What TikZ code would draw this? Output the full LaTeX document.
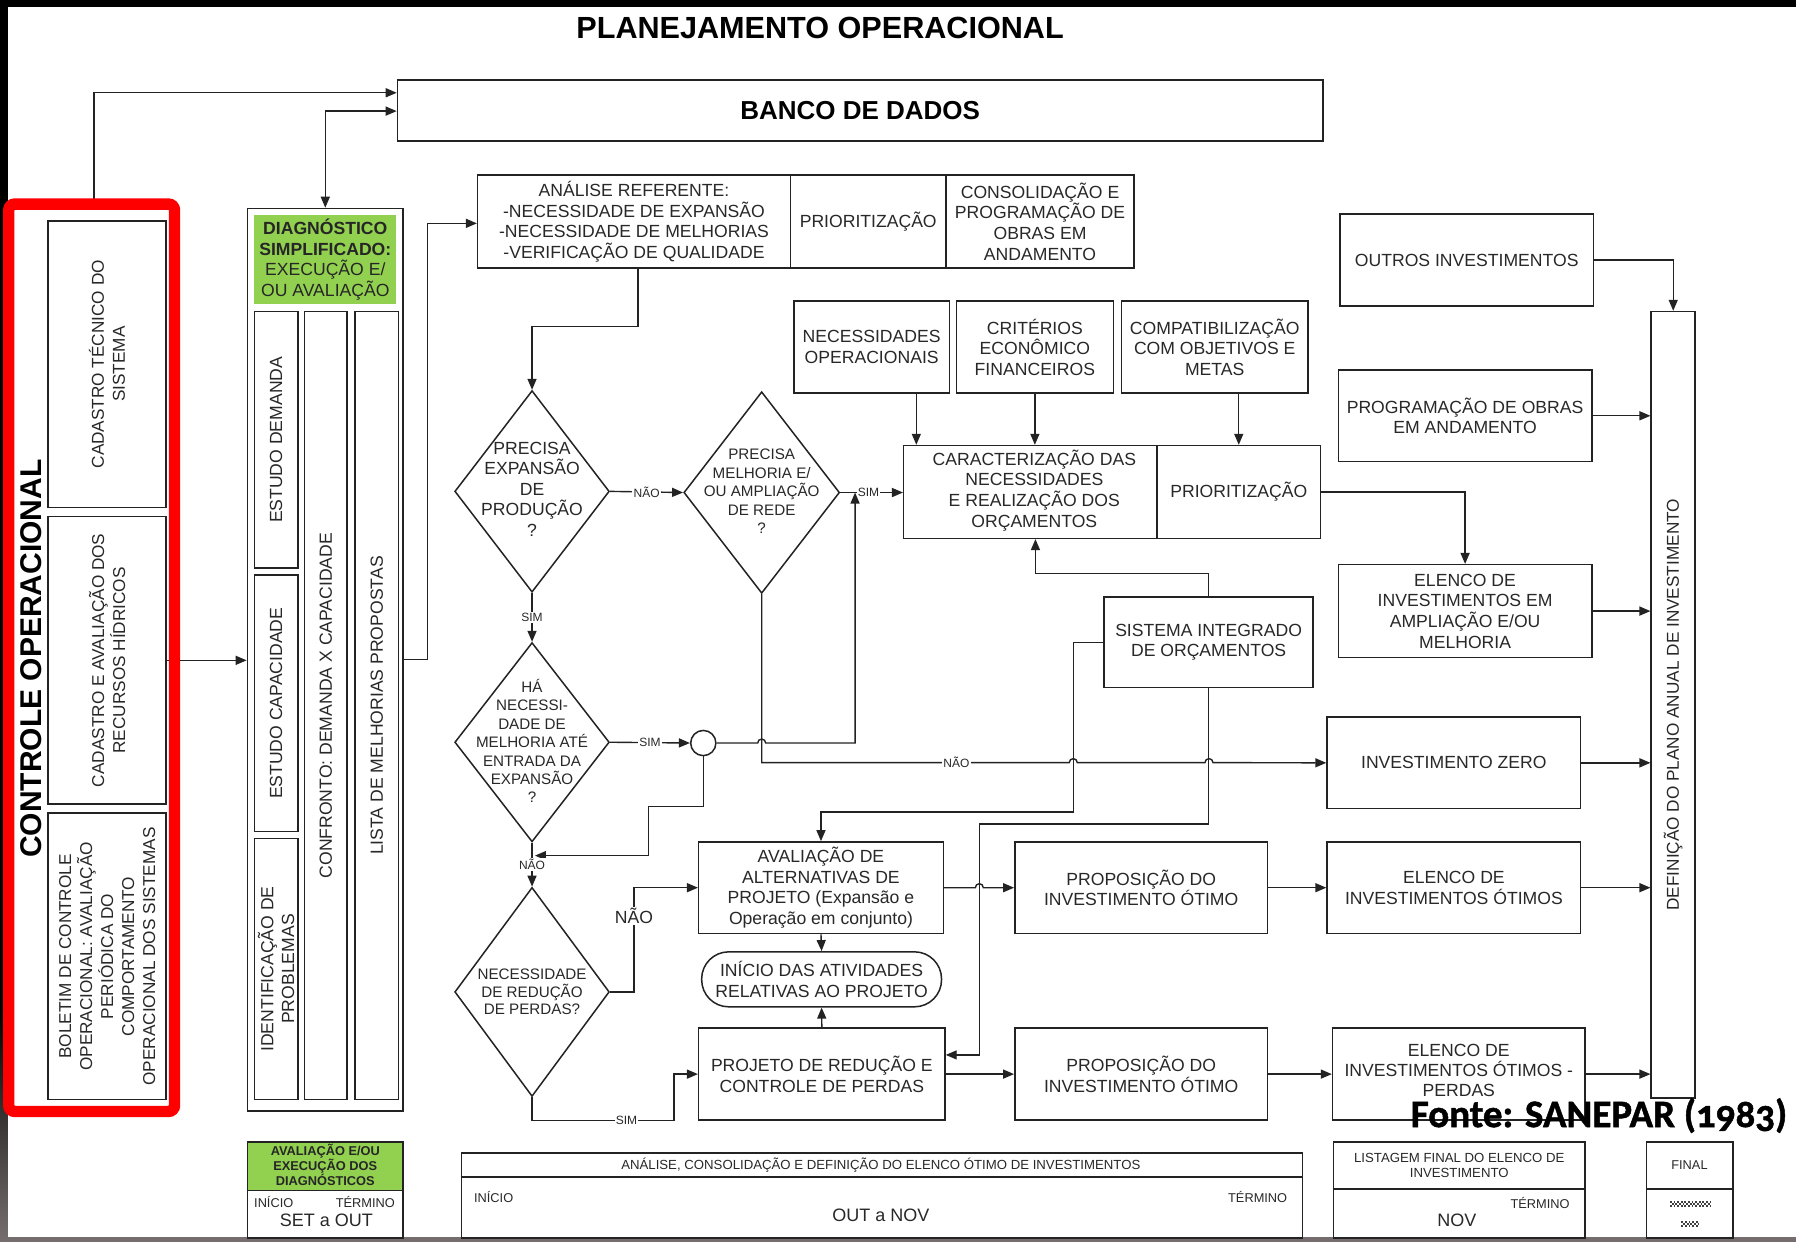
\documentclass[tikz,border=0pt]{standalone}
\usepackage{fontspec}
\setmainfont{Liberation Sans}
\newfontfamily\sourcefont{Carlito}[Numbers=OldStyle, BoldFeatures={FakeBold=1.2}]
\usetikzlibrary{shapes.geometric,arrows.meta}

\definecolor{diaggreen}{RGB}{146,208,80}
\definecolor{ink}{RGB}{35,35,35}
\definecolor{txt}{RGB}{40,40,40}
\definecolor{framegray}{RGB}{118,110,110}

% one drawing unit in points
\newcommand{\pxu}{0.5727pt}
% \bx[style]{name}{x1}{y1}{x2}{y2}{text}: box given by its corners
\newcommand{\bx}[7][]{%
  \node[box,minimum width={(#5-#3)*\pxu},minimum height={(#6-#4)*\pxu},#1]
    (#2) at ({(#3+#5)/2},{(#4+#6)/2}) {#7};}

\tikzset{
  box/.style={draw=ink, line width=0.75pt, rectangle, inner sep=1pt, align=center,
    text=txt, font=\fontsize{8.8}{10.3}\selectfont},
  conn/.style={draw=ink, line width=0.7pt},
  arr/.style={conn, -{Triangle[length=5.5pt,width=4.5pt]}},
  darr/.style={conn, {Triangle[length=5.5pt,width=4.5pt]}-{Triangle[length=5.5pt,width=4.5pt]}},
  lbl/.style={fill=white, inner sep=0.6pt, text=txt, font=\fontsize{6}{7}\selectfont},
  vtext/.style={rotate=90, align=center, text=txt, font=\fontsize{8.8}{10.4}\selectfont},
  btext/.style={align=center, text=txt, font=\fontsize{8.8}{10.3}\selectfont, inner sep=1pt},
  decision/.style={diamond, draw=ink, line width=0.75pt, inner sep=0pt},
  qtext/.style={align=center, text=txt, font=\fontsize{7.6}{9.2}\selectfont},
  smalltext/.style={text=txt, font=\fontsize{6.4}{7.6}\selectfont, align=center, inner sep=0.5pt},
  divider/.style={draw=ink, line width=0.75pt},
  dither/.style={draw=black!75, line width=0.9pt, dash pattern=on 0.9pt off 0.9pt},
}

\begin{document}
\begin{tikzpicture}[x=0.5727pt, y=-0.5727pt]
\useasboundingbox (0,0) rectangle (1568,1084);

% page edges
\fill[black] (0,0) rectangle (1568,1084);
\fill[framegray] (0,1080) rectangle (1568,1084);
\shade[top color=black, bottom color=framegray] (0,880) rectangle (7,1084);
\fill[white] (7,6) rectangle (1568,1080);

% title and database
\node[font=\bfseries\fontsize{15.3}{18}\selectfont, text=black] (title) at (716,24) {PLANEJAMENTO OPERACIONAL};
\bx[font=\bfseries\fontsize{13}{15}\selectfont, text=black]{banco}{347}{70}{1155}{123}{BANCO DE DADOS}

% operational control column
\node[minimum width={144*\pxu}, minimum height={791.5*\pxu}, inner sep=0] (ctrl) at (80,574.25) {};
\bx{cadtec}{42}{193}{145}{443}{}
\bx{cadrec}{42}{451}{145}{702}{}
\bx{boletim}{42}{710}{145}{960}{}
\node[vtext, font=\fontsize{8.6}{10.5}\selectfont] (tcadtec) at (cadtec) {CADASTRO TÉCNICO DO\\SISTEMA};
\node[vtext, font=\fontsize{8.6}{10.5}\selectfont] (tcadrec) at (cadrec) {CADASTRO E AVALIAÇÃO DOS\\RECURSOS HÍDRICOS};
\node[vtext, font=\fontsize{8.6}{10.5}\selectfont] (tboletim) at (boletim) {BOLETIM DE CONTROLE\\OPERACIONAL: AVALIAÇÃO\\PERIÓDICA DO\\COMPORTAMENTO\\OPERACIONAL DOS SISTEMAS};
\node[rotate=90, font=\bfseries\fontsize{15}{18}\selectfont, text=black] (ctrltitle) at (27,575) {CONTROLE OPERACIONAL};

% simplified diagnosis column
\bx{diag}{216}{182}{352}{970}{}
\node[fill=diaggreen, minimum width={124*\pxu}, minimum height={77*\pxu}, inner sep=0, align=center,
  text=black!85, font=\fontsize{8.8}{10.3}\selectfont] (diaghead) at (284,226.5)
  {\textbf{DIAGNÓSTICO}\\\textbf{SIMPLIFICADO:}\\EXECUÇÃO E/\\OU AVALIAÇÃO};
\bx{estdem}{222}{272}{260}{496}{}
\bx{estcap}{222}{502}{260}{726}{}
\bx{identp}{222}{732}{260}{960}{}
\bx{confr}{266}{272}{303}{960}{}
\bx{lista}{310}{272}{348}{960}{}
\node[vtext] (testdem) at (estdem) {ESTUDO DEMANDA};
\node[vtext] (testcap) at (estcap) {ESTUDO CAPACIDADE};
\node[vtext] (tidentp) at (identp) {IDENTIFICAÇÃO DE\\PROBLEMAS};
\node[vtext] (tconfr) at (confr) {CONFRONTO: DEMANDA X CAPACIDADE};
\node[vtext] (tlista) at (lista) {LISTA DE MELHORIAS PROPOSTAS};

% analysis header row
\bx{analise}{417}{153}{690}{234}{ANÁLISE REFERENTE:\\-NECESSIDADE DE EXPANSÃO\\-NECESSIDADE DE MELHORIAS\\-VERIFICAÇÃO DE QUALIDADE}
\bx{prior1}{690}{153}{826}{234}{PRIORITIZAÇÃO}
\bx{consol}{826}{153}{990}{234}{CONSOLIDAÇÃO E\\PROGRAMAÇÃO DE\\OBRAS EM\\ANDAMENTO}

% criteria and budgeting
\bx{necop}{693}{263}{829}{343}{NECESSIDADES\\OPERACIONAIS}
\bx{crit}{835}{263}{972}{343}{CRITÉRIOS\\ECONÔMICO\\FINANCEIROS}
\bx{compat}{979}{263}{1142}{343}{COMPATIBILIZAÇÃO\\COM OBJETIVOS E\\METAS}
\bx{carac}{789}{389}{1010}{470}{}
\node[btext] (tcarac) at (903,428) {CARACTERIZAÇÃO DAS\\NECESSIDADES\\E REALIZAÇÃO DOS\\ORÇAMENTOS};
\bx{prior2}{1010}{389}{1153}{470}{PRIORITIZAÇÃO}
\bx{sist}{964}{521}{1146.4}{600.4}{SISTEMA INTEGRADO\\DE ORÇAMENTOS}

% project boxes
\bx{avalia}{610}{735}{823.5}{815}{AVALIAÇÃO DE\\ALTERNATIVAS DE\\PROJETO (Expansão e\\Operação em conjunto)}
\bx[rounded corners=13.5pt]{inicio}{612.6}{831}{822}{879}{INÍCIO DAS ATIVIDADES\\RELATIVAS AO PROJETO}
\bx{projred}{610}{897.5}{825}{978}{PROJETO DE REDUÇÃO E\\CONTROLE DE PERDAS}
\bx{propos1}{886}{735}{1106.6}{815}{PROPOSIÇÃO DO\\INVESTIMENTO ÓTIMO}
\bx{propos2}{886}{897.5}{1106.6}{978}{PROPOSIÇÃO DO\\INVESTIMENTO ÓTIMO}

% investment lists
\bx{outros}{1170}{187}{1391}{267}{OUTROS INVESTIMENTOS}
\bx{progobr}{1168.5}{323}{1389.7}{403}{PROGRAMAÇÃO DE OBRAS\\EM ANDAMENTO}
\bx{elamp}{1168.5}{493}{1389.7}{574}{ELENCO DE\\INVESTIMENTOS EM\\AMPLIAÇÃO E/OU\\MELHORIA}
\bx{invzero}{1158.6}{626}{1380}{706}{INVESTIMENTO ZERO}
\bx{elotim}{1158.6}{735}{1380}{815}{ELENCO DE\\INVESTIMENTOS ÓTIMOS}
\bx{elperd}{1163.4}{897.5}{1383.8}{978}{}
\node[btext, font=\fontsize{8.8}{10}\selectfont] (telperd) at (1273.6,934.5) {ELENCO DE\\INVESTIMENTOS ÓTIMOS -\\PERDAS};
\bx{defin}{1441.6}{272}{1480}{958.6}{}
\node[vtext, font=\fontsize{8.6}{10}\selectfont] (tdefin) at (defin) {DEFINIÇÃO DO PLANO ANUAL DE INVESTIMENTO};

% decisions
\node[decision, minimum width={135*\pxu}, minimum height={176*\pxu}] (d1) at (464.5,429) {};
\node[qtext, font=\fontsize{8.8}{10.3}\selectfont] (q1) at (464.5,427) {PRECISA\\EXPANSÃO\\DE\\PRODUÇÃO\\?};
\node[decision, minimum width={136*\pxu}, minimum height={176*\pxu}] (d2) at (665,430) {};
\node[qtext] (q2) at (665,429) {PRECISA\\MELHORIA E/\\OU AMPLIAÇÃO\\DE REDE\\?};
\node[decision, minimum width={135*\pxu}, minimum height={174*\pxu}] (d3) at (464.5,648) {};
\node[qtext] (q3) at (464.5,647) {HÁ\\NECESSI-\\DADE DE\\MELHORIA ATÉ\\ENTRADA DA\\EXPANSÃO\\?};
\node[decision, minimum width={135*\pxu}, minimum height={182.5*\pxu}] (d4) at (464.5,866) {};
\node[qtext, font=\fontsize{7.6}{8.9}\selectfont] (q4) at (464.5,866) {NECESSIDADE\\DE REDUÇÃO\\DE PERDAS?};
\node[circle, draw=ink, line width=0.75pt, minimum size={22*\pxu}, inner sep=0] (circ) at (614,648.7) {};

% connectors: upper part
\draw[arr] (ctrl.north -| 82,0) |- (banco.west |- 0,81);
\draw[darr] (banco.west |- 0,97) -| (diag.north);
\draw[arr] (cadrec.east) -- (diag.west |- cadrec.east);
\draw[arr] (diag.east |- 0,576) -| (373,195) -- (analise.west |- 0,195);
\draw[arr] (analise.south -| 557,0) -- (557,285) -| (d1.north);
\draw[arr] (d1.east) -- (d2.west) node[lbl, midway] {NÃO};
\draw[arr] (d2.east) -- (carac.west |- d2.east) node[lbl, pos=0.45] {SIM};
\draw[arr] (necop.south -| 800,0) -- (carac.north -| 800,0);
\draw[arr] (crit.south) -- (carac.north -| crit.south);
\draw[arr] (compat.south -| prior2.north) -- (prior2.north);
\draw[arr] (prior2.east) -| (elamp.north);
\draw[arr] (outros.east) -| (defin.north);
\draw[arr] (progobr.east) -- (defin.west |- progobr.east);
\draw[arr] (elamp.east) -- (defin.west |- elamp.east);
\draw[arr] (invzero.east) -- (defin.west |- invzero.east);
\draw[arr] (elotim.east) -- (defin.west |- elotim.east);
\draw[arr] (elperd.east) -- (defin.west |- elperd.east);

% connectors: decision chain
\coordinate (simjoin) at (746.5,430);
\coordinate (d3join) at (467,747);
\draw[arr] (d1.south) -- (d3.north) node[lbl, midway] {SIM};
\draw[arr] (d3.east) -- (circ.west) node[lbl, midway] {SIM};
\draw[arr] (circ.east) -- (661.5,648.7) arc[start angle=180, end angle=360, radius=3.5]
  -- (746.5,648.7) -- (simjoin);
\draw[arr] (circ.south) -- (614,704) -| (566,747) -- (d3join);
\draw[arr] (d3.south) -- (d4.north) node[lbl, midway] {NÃO};
\draw[arr] (d4.east) -- (553.5,866) |- (avalia.west);
\node[lbl, font=\fontsize{8.8}{10}\selectfont] (nao4) at (553.5,800) {NÃO};
\draw[arr] (d4.south) |- (588.4,978.5) |- (projred.west);
\node[lbl] (sim4) at (547,978.5) {SIM};
\draw[arr] (d2.south) |- (933.5,665.8) arc[start angle=180, end angle=360, radius=3.5]
  -- (1052,665.8) arc[start angle=180, end angle=360, radius=3.5] -- (invzero.west);
\node[lbl] (nao2) at (835,665.8) {NÃO};

% connectors: budgeting system and projects
\draw[arr] (sist.north) |- (904,500.5) -- (carac.south -| 904,0);
\draw[arr] (sist.west) -| (937,709) -| (avalia.north);
\draw[arr] (sist.south) |- (855,719.5) |- (projred.east |- 0,921);
\draw[arr] (avalia.south) -- (inicio.north);
\draw[arr] (projred.north) -- (inicio.south);
\draw[arr] (avalia.east) -- (851.5,775) arc[start angle=180, end angle=360, radius=3.5] -- (propos1.west);
\draw[arr] (propos1.east) -- (elotim.west |- propos1.east);
\draw[arr] (projred.east) -- (propos2.west);
\draw[arr] (propos2.east) -- (elperd.west |- propos2.east);

% red frame around the operational control column
\draw[red, line width=5.7pt, rounded corners=3pt] (ctrl.north west) rectangle (ctrl.south east);

% timeline legend
\fill[diaggreen] (216,997) rectangle (352,1039.5);
\bx{leg1}{216}{997}{352}{1081}{}
\draw[divider] (leg1.west |- 0,1039.5) -- (leg1.east |- 0,1039.5);
\node[font=\bfseries\fontsize{6.4}{7.5}\selectfont, align=center, text=black!85] (leg1t) at (284,1017) {AVALIAÇÃO E/OU\\EXECUÇÃO DOS\\DIAGNÓSTICOS};
\node[smalltext] (leg1i) at (239,1049.4) {INÍCIO};
\node[smalltext] (leg1f) at (319,1049.4) {TÉRMINO};
\node[font=\fontsize{9}{10}\selectfont, text=txt] (leg1p) at (285,1065.7) {SET a OUT};

\bx{leg2}{402.8}{1006.4}{1137}{1081}{}
\draw[divider] (leg2.west |- 0,1027.6) -- (leg2.east |- 0,1027.6);
\node[smalltext, font=\fontsize{6.6}{7.6}\selectfont] (leg2t) at (769,1017) {ANÁLISE, CONSOLIDAÇÃO E DEFINIÇÃO DO ELENCO ÓTIMO DE INVESTIMENTOS};
\node[smalltext] (leg2i) at (431,1044.8) {INÍCIO};
\node[smalltext] (leg2f) at (1098,1044.8) {TÉRMINO};
\node[font=\fontsize{9}{10}\selectfont, text=txt] (leg2p) at (769,1060.8) {OUT a NOV};

\bx{leg3}{1164}{996.8}{1383.8}{1081}{}
\draw[divider] (leg3.west |- 0,1038) -- (leg3.east |- 0,1038);
\node[smalltext, font=\fontsize{6.6}{7.6}\selectfont] (leg3t) at (1274,1017.5) {LISTAGEM FINAL DO ELENCO DE\\INVESTIMENTO};
\node[smalltext] (leg3f) at (1344.5,1050) {TÉRMINO};
\node[font=\fontsize{9}{10}\selectfont, text=txt] (leg3p) at (1272,1065) {NOV};

\bx{leg4}{1437.6}{996.8}{1513}{1081}{}
\draw[divider] (leg4.west |- 0,1038) -- (leg4.east |- 0,1038);
\node[smalltext] (leg4t) at (1475,1017) {FINAL};
\draw[dither] (1458,1049.4) -- (1493.6,1049.4);
\draw[dither, dash phase=0.9pt] (1458,1051) -- (1493.6,1051);
\draw[dither] (1458,1052.6) -- (1493.6,1052.6);
\draw[dither] (1468,1067.2) -- (1483,1067.2);
\draw[dither, dash phase=0.9pt] (1468,1068.8) -- (1483,1068.8);
\draw[dither] (1468,1070.4) -- (1483,1070.4);

% source
\node[anchor=base, font=\sourcefont\bfseries\fontsize{19.5}{24}\selectfont, text=black] (fonte) at (1396,984) {Fonte: SANEPAR (1983)};
\end{tikzpicture}
\end{document}
